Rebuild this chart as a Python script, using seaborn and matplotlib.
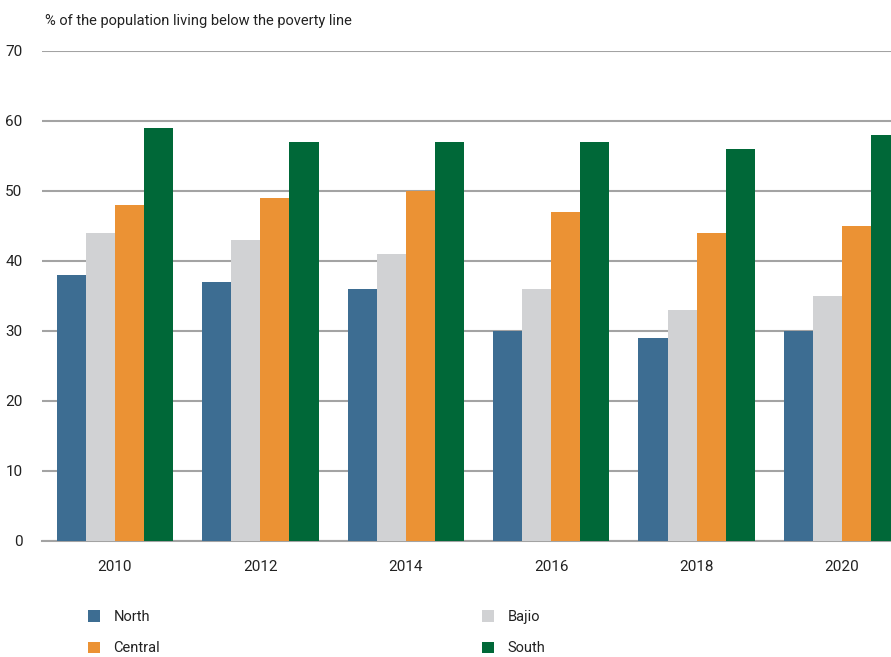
import matplotlib
matplotlib.use("Agg")
import matplotlib.pyplot as plt
import seaborn as sns
import pandas as pd

years = ["2010", "2012", "2014", "2016", "2018", "2020"]
regions = ["North", "Bajio", "Central", "South"]
north = [38, 37, 36, 30, 29, 30]
bajio = [44, 43, 41, 36, 33, 35]
central = [48, 49, 50, 47, 44, 45]
south = [59, 57, 57, 57, 56, 58]
yticks = [0, 10, 20, 30, 40, 50, 60, 70]

palette = {"North": "#3d6d92", "Bajio": "#d1d2d4",
           "Central": "#eb9234", "South": "#006838"}

rows = []
for reg, vals in zip(regions, [north, bajio, central, south]):
    for yr, v in zip(years, vals):
        rows.append({"year": yr, "region": reg, "value": v})
df = pd.DataFrame(rows)

sns.set_theme(style="white")
plt.rcParams["font.family"] = ["Roboto", "DejaVu Sans"]
TXT = "#222222"

fig = plt.figure(figsize=(8.91, 6.57), dpi=100)
ax = fig.add_axes([42 / 891, 116 / 657, 1 - 42 / 891, 490 / 657])

sns.barplot(data=df, x="year", y="value", hue="region", order=years,
            hue_order=regions, palette=palette, width=0.8, saturation=1,
            errorbar=None, ax=ax, linewidth=0, edgecolor="none", zorder=3)

ax.set_ylim(0, 70)
ax.set_xlim(-0.502, 5.337)
ax.set_yticks(yticks)
ax.yaxis.grid(True, color="#a3a3a3", linewidth=1.5, zorder=0)
ax.set_axisbelow(True)
for s in ["top", "right", "left"]:
    ax.spines[s].set_visible(False)
ax.spines["bottom"].set_color("#a3a3a3")
ax.spines["bottom"].set_linewidth(1.5)
ax.tick_params(axis="both", length=0, labelsize=11, colors=TXT)
ax.tick_params(axis="y", pad=14)
ax.tick_params(axis="x", pad=14)
ax.set_xlabel("")
ax.set_ylabel("")

handles, labels = ax.get_legend_handles_labels()
ax.get_legend().remove()
hmap = dict(zip(labels, handles))

def make_legend(names, x):
    leg = fig.legend([hmap[n] for n in names], names, loc="upper left",
                     bbox_to_anchor=(x / 891, 1 - 610 / 657), frameon=False,
                     fontsize=10.5, handlelength=0.8, handleheight=0.8,
                     handletextpad=0.95, labelspacing=1.2, borderaxespad=0,
                     borderpad=0)
    for t in leg.get_texts():
        t.set_color(TXT)
    return leg

make_legend(["North", "Central"], 88)
make_legend(["Bajio", "South"], 482)

fig.text(45 / 891, 1 - 21 / 657, "% of the population living below the poverty line",
         fontsize=10.5, color=TXT, va="center", ha="left")

fig.savefig("out.png", dpi=100)
